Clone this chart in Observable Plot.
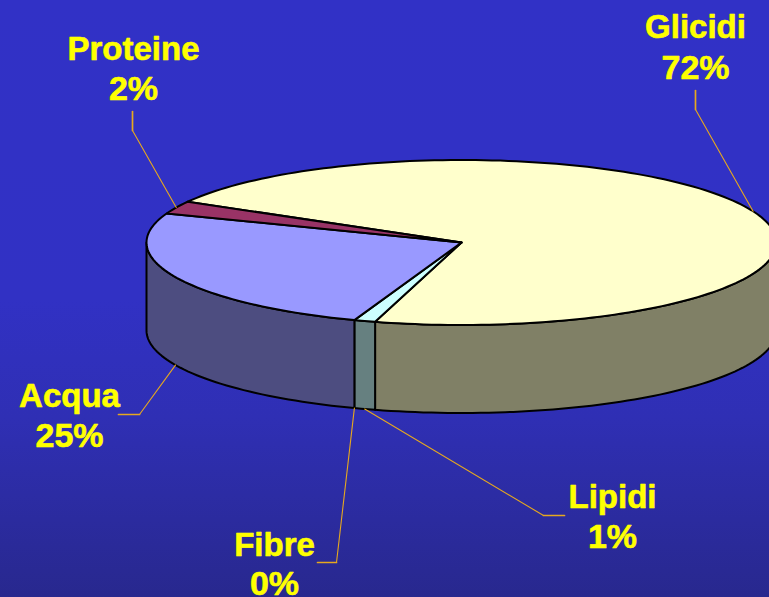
<!DOCTYPE html>
<html>
<head>
<meta charset="utf-8">
<script src="https://cdn.jsdelivr.net/npm/d3@7"></script>
<script src="https://cdn.jsdelivr.net/npm/@observablehq/plot@0.6"></script>
<style>html,body{margin:0;padding:0;background:#2a2a8e;overflow:hidden}svg{display:block}</style>
</head>
<body>
<div id="chart"></div>
<script>
// Data, clockwise from the Proteine / Glicidi boundary
const categories = ["Glicidi", "Lipidi", "Fibre", "Acqua", "Proteine"];
const values = [71.2, 1.1, 0, 25.2, 2.5];
const percentLabels = ["72%", "1%", "0%", "25%", "2%"];

// Styles
const topColors = ["#FFFFCC", "#CCFFFF", "#CCFFFF", "#9999FF", "#993366"];
const wallColors = ["#808066", "#668080", "#668080", "#4D4D80", "#4D1A33"];
const textColor = "#FFFF00";
const leaderColor = "#E6A81F";

// Pie geometry, in picture units
const W = 769, H = 597;
const cx = 461, cy = 242, rx = 315, ry = 82.5, depth = 88;
const startDeg = 119.6;
const rim = (deg, dz = 0) => {
  const t = deg * Math.PI / 180;
  return {x: cx - rx * Math.sin(t), y: cy + ry * Math.cos(t) + dz};
};
const arc = (a, b, dz = 0) => {
  const n = Math.max(1, Math.ceil(Math.abs(b - a) / 1.5));
  return d3.range(n + 1).map(i => rim(a + (b - a) * i / n, dz));
};

const arcs = d3.pie().sort(null)
  .startAngle(startDeg * Math.PI / 180)
  .endAngle((startDeg + 360) * Math.PI / 180)(values)
  .map((d, i) => ({i, a: d.startAngle * 180 / Math.PI, b: d.endAngle * 180 / Math.PI}));

// Only the part of the rim in front of the viewer has a wall (270..450 degrees)
const walls = arcs.map(d => {
  const a = Math.max(d.a, 270), b = Math.min(d.b, 450);
  return b > a ? {i: d.i, points: [...arc(a, b), ...arc(b, a, depth)]} : null;
}).filter(Boolean);

const tops = arcs.filter(d => d.b > d.a).map(d => ({i: d.i, points: [{x: cx, y: cy}, ...arc(d.a, d.b)]}));

// Label placement: baseline centre of the two text lines, and the leader's outer two points
const layout = {
  Glicidi:  {x: 695, y1: 37,  y2: 78,  elbow: [695, 109], end: [695, 90]},
  Lipidi:   {x: 612, y1: 507, y2: 547, elbow: [543, 515], end: [564, 515]},
  Fibre:    {x: 274, y1: 555, y2: 594, elbow: [336, 562], end: [317, 562]},
  Acqua:    {x: 69,  y1: 406, y2: 446, elbow: [139, 414], end: [118, 414]},
  Proteine: {x: 133, y1: 59,  y2: 99,  elbow: [132, 130], end: [132, 111]}
};

const diagonals = arcs.map(d => {
  const mid = (d.a + d.b) / 2;
  const front = mid > 270 && mid < 450;
  const l = layout[categories[d.i]];
  return [rim(mid, front ? depth : 0), {x: l.elbow[0], y: l.elbow[1]}];
});
const stubs = categories.map(c => [
  {x: layout[c].elbow[0], y: layout[c].elbow[1]},
  {x: layout[c].end[0], y: layout[c].end[1]}
]);

const nameRows = categories.map(c => ({x: layout[c].x, y: layout[c].y1, t: c}));
const percentRows = categories.map((c, i) => ({x: layout[c].x, y: layout[c].y2, t: percentLabels[i]}));

const outline = {x: "x", y: "y", stroke: "#000", strokeWidth: 2, strokeLinejoin: "round"};
const label = {x: "x", y: "y", text: "t", fill: textColor, textAnchor: "middle", lineAnchor: "bottom",
  fontFamily: "Liberation Sans", fontWeight: "bold", stroke: textColor, strokeWidth: 0.6};

const plot = Plot.plot({
  width: W, height: H,
  marginTop: 0, marginRight: 0, marginBottom: 0, marginLeft: 0,
  x: {domain: [0, W], range: [0, W], axis: null},
  y: {domain: [0, H], range: [0, H], axis: null},
  style: {background: "linear-gradient(180deg,#3131C6 0%,#3131C4 50%,#2F2FB4 70%,#28288E 100%)", overflow: "hidden"},
  marks: [
    ...walls.map(w => Plot.line([...w.points, w.points[0]], {...outline, fill: wallColors[w.i]})),
    ...tops.map(s => Plot.line([...s.points, s.points[0]], {...outline, fill: topColors[s.i]})),
    ...diagonals.map(p => Plot.line(p, {x: "x", y: "y", stroke: leaderColor, strokeWidth: 1.1})),
    ...stubs.map(p => Plot.line(p, {x: "x", y: "y", stroke: leaderColor, strokeWidth: 1.7})),
    Plot.text(nameRows, {...label, fontSize: 33}),
    Plot.text(percentRows, {...label, fontSize: 34})
  ]
});
document.getElementById("chart").append(plot);
</script>
</body>
</html>
